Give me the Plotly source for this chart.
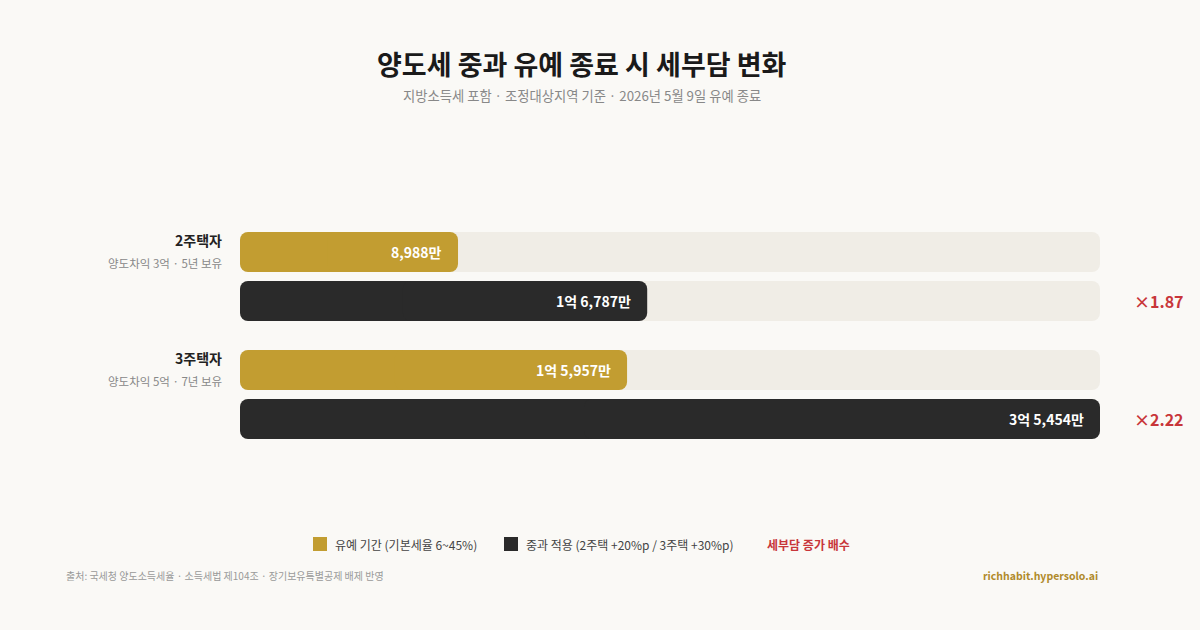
import plotly.graph_objects as go

### data
groups = ['2주택자', '3주택자']
group_notes = ['양도차익 3억 · 5년 보유', '양도차익 5억 · 7년 보유']
series = ['유예 기간 (기본세율 6~45%)', '중과 적용 (2주택 +20%p / 3주택 +30%p)']
tax_grace = [8988, 15957]        # 만원
tax_heavy = [16787, 35454]       # 만원
value_labels_grace = ['8,988만', '1억 5,957만']
value_labels_heavy = ['1억 6,787만', '3억 5,454만']
multipliers = ['×1.87', '×2.22']

### style
FONT = 'Noto Sans CJK KR'
BG = '#faf9f6'
GOLD = '#c29d31'
DARK = '#2a2a2a'
TRACK = '#f0ede6'
RED = '#c8363a'

# rows in pixel units (y axis maps 1:1 to page pixels)
def row_y(g, s):
    return 252 + g * 118 + s * 49

x_max = max(tax_heavy)

fig = go.Figure()

# each bar = two overlapping pieces growing out from the middle,
# so both outer ends get the rounded corners
def rounded_bar(vals, ys, color, name):
    # left piece: from 0.6v back to 0
    fig.add_trace(go.Bar(
        x=[-0.6 * v for v in vals], base=[0.6 * v for v in vals], y=ys, orientation='h', width=40,
        marker=dict(color=color, line=dict(width=0), cornerradius=8),
        name=name, showlegend=False, hoverinfo='skip',
    ))
    # right piece: from 0.4v to v
    fig.add_trace(go.Bar(
        x=[0.6 * v for v in vals], base=[0.4 * v for v in vals], y=ys, orientation='h', width=40,
        marker=dict(color=color, line=dict(width=0), cornerradius=8),
        name=name, showlegend=False, customdata=vals, hovertemplate='%{customdata:,}만<extra></extra>',
    ))

# background tracks
track_y = [row_y(g, s) for g in range(len(groups)) for s in range(2)]
rounded_bar([x_max] * len(track_y), track_y, TRACK, 'track')

rounded_bar(tax_grace, [row_y(g, 0) for g in range(len(groups))], GOLD, series[0])
rounded_bar(tax_heavy, [row_y(g, 1) for g in range(len(groups))], DARK, series[1])

fig.update_layout(
    barmode='overlay',
    width=1200, height=630,
    margin=dict(l=0, r=0, t=0, b=0),
    paper_bgcolor=BG, plot_bgcolor=BG,
    font=dict(family=FONT, color='#222'),
    xaxis=dict(domain=[240 / 1200, 1100 / 1200], range=[0, x_max], visible=False, fixedrange=True),
    yaxis=dict(domain=[0, 1], range=[630, 0], visible=False, fixedrange=True),
)

ann = []
for g in range(len(groups)):
    # value labels inside bars
    for s, (vals, labels) in enumerate([(tax_grace, value_labels_grace), (tax_heavy, value_labels_heavy)]):
        ann.append(dict(x=vals[g], y=row_y(g, s), xref='x', yref='y', text=f'<b>{labels[g]}</b>',
                        showarrow=False, xanchor='right', xshift=-14,
                        font=dict(size=14, color='white', family=FONT)))
    # group labels
    ann.append(dict(x=224 / 1200, y=240 + g * 118, xref='paper', yref='y', text=f'<b>{groups[g]}</b>',
                    showarrow=False, xanchor='right', font=dict(size=14, color='#222', family=FONT)))
    ann.append(dict(x=224 / 1200, y=263 + g * 118, xref='paper', yref='y', text=group_notes[g],
                    showarrow=False, xanchor='right', font=dict(size=11.5, color='#888', family=FONT)))
    # multiplier
    ann.append(dict(x=1159 / 1200, y=row_y(g, 1), xref='paper', yref='y', text=f'<b>{multipliers[g]}</b>',
                    showarrow=False, xanchor='center', font=dict(size=16, color=RED, family=FONT)))

# title & subtitle
ann.append(dict(x=582 / 1200, y=63, xref='paper', yref='y', text='<b>양도세 중과 유예 종료 시 세부담 변화</b>',
                showarrow=False, font=dict(size=27, color='#1a1a1a', family=FONT)))
ann.append(dict(x=582 / 1200, y=95, xref='paper', yref='y', text='지방소득세 포함 · 조정대상지역 기준 · 2026년 5월 9일 유예 종료',
                showarrow=False, font=dict(size=13.3, color='#888', family=FONT)))

# legend
ann.append(dict(x=333 / 1200, y=544, xref='paper', yref='y', text=series[0], showarrow=False,
                xanchor='left', font=dict(size=12, color='#444', family=FONT)))
ann.append(dict(x=524 / 1200, y=544, xref='paper', yref='y', text=series[1], showarrow=False,
                xanchor='left', font=dict(size=12, color='#444', family=FONT)))
ann.append(dict(x=765 / 1200, y=544, xref='paper', yref='y', text='<b>세부담 증가 배수</b>', showarrow=False,
                xanchor='left', font=dict(size=12, color=RED, family=FONT)))

# footer
ann.append(dict(x=64 / 1200, y=575, xref='paper', yref='y',
                text='출처: 국세청 양도소득세율 · 소득세법 제104조 · 장기보유특별공제 배제 반영',
                showarrow=False, xanchor='left', font=dict(size=10, color='#999', family=FONT)))
ann.append(dict(x=1100 / 1200, y=575, xref='paper', yref='y', text='<b>richhabit.hypersolo.ai</b>',
                showarrow=False, xanchor='right', font=dict(size=10.5, color='#b08a2a', family=FONT)))

fig.update_layout(annotations=ann)

# legend swatches
def swatch(x0, color):
    return dict(type='rect', xref='paper', yref='y', x0=x0 / 1200, x1=(x0 + 14) / 1200, y0=537, y1=551,
                fillcolor=color, line=dict(width=0), layer='above')

fig.update_layout(shapes=[swatch(313, GOLD), swatch(504, DARK)])

fig.write_html("out.html", config={'displayModeBar': False},
               post_script="document.body.style.margin='0';document.body.style.background='%s';" % BG)
